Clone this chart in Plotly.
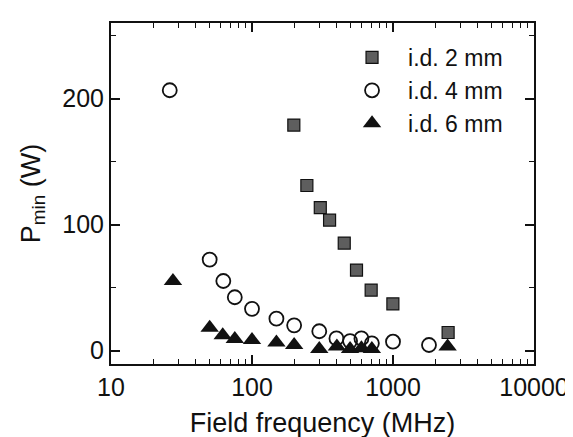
import plotly.graph_objects as go

# i.d. 2 mm
f2 = [198, 245, 305, 355, 451, 551, 700, 998, 2460]
p2 = [179, 131, 113.5, 103.5, 85.3, 63.9, 48, 37, 14.3]

# i.d. 4 mm
f4 = [26.1, 50.1, 62.6, 75.5, 100, 149, 199, 300, 397, 496, 597, 708, 1000, 1800]
p4 = [206.6, 72.2, 55.2, 42.3, 33.1, 25.3, 20, 15.3, 9.6, 7.5, 9.6, 5.7, 7, 4.4]

# i.d. 6 mm
f6 = [27.5, 50.1, 62, 75.5, 100, 149, 199, 300, 400, 496, 597, 708, 2440]
p6 = [55.2, 18, 12.2, 9.1, 8.3, 6.3, 4.4, 1.3, 3.1, 1.3, 1.8, 1.3, 3.1]

x_ticks = [10, 100, 1000, 10000]
x_ticklabels = ["10", "100", "1000", "10000"]
x_minor = [m * d for d in (10, 100, 1000) for m in range(2, 10)]
y_ticks = [0, 100, 200]

FONT = "Liberation Sans, Arial, Helvetica, sans-serif"
INK = "#111111"

fig = go.Figure()
fig.add_trace(go.Scatter(
    x=f2, y=p2, mode="markers", name="i.d. 2 mm",
    marker=dict(symbol="square", size=12, color="#5e5e5e",
                line=dict(color=INK, width=1.2)),
))
fig.add_trace(go.Scatter(
    x=f4, y=p4, mode="markers", name="i.d. 4 mm",
    marker=dict(symbol="circle-open", size=14, color=INK,
                line=dict(color=INK, width=1.8)),
))
fig.add_trace(go.Scatter(
    x=f6, y=p6, mode="markers", name="i.d. 6 mm",
    marker=dict(symbol="triangle-up", size=16, color=INK,
                line=dict(color=INK, width=0)),
))

axis_common = dict(
    showline=True, linecolor=INK, linewidth=2, mirror="ticks",
    ticks="inside", ticklen=9, tickwidth=1.5, tickcolor=INK,
    showgrid=False, zeroline=False,
    tickfont=dict(family=FONT, size=25, color=INK),
)

fig.update_xaxes(
    type="log", range=[1, 4],
    tickvals=x_ticks, ticktext=x_ticklabels,
    minor=dict(tickvals=x_minor, ticks="inside", ticklen=5, tickwidth=1.2,
               tickcolor=INK, showgrid=False),
    title=dict(text="Field frequency (MHz)", font=dict(family=FONT, size=27, color=INK), standoff=13),
    **axis_common,
)
fig.update_yaxes(
    range=[-10.7, 260],
    tickvals=y_ticks,
    minor=dict(tickvals=[50, 150, 250], ticks="inside", ticklen=5, tickwidth=1.2,
               tickcolor=INK, showgrid=False),
    title=dict(text="P<sub>min</sub> (W)", font=dict(family=FONT, size=27, color=INK), standoff=14),
    **axis_common,
)

fig.update_layout(
    width=573, height=437,
    margin=dict(l=103, r=36, t=15, b=76),
    paper_bgcolor="white", plot_bgcolor="white",
    showlegend=True,
    legend=dict(x=0.532, y=0.962, xanchor="left", yanchor="top",
                bgcolor="rgba(0,0,0,0)", borderwidth=0,
                font=dict(family=FONT, size=23, color=INK),
                itemwidth=62, itemsizing="trace", tracegroupgap=0),
)

fig.write_html("out.html")
